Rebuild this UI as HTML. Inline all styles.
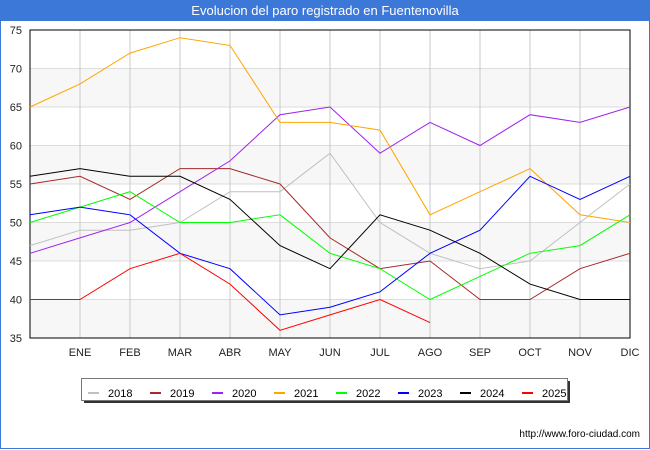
<!DOCTYPE html>
<html><head><meta charset="utf-8"><style>
body{margin:0;width:650px;height:450px;background:#fff;font-family:"Liberation Sans","DejaVu Sans",sans-serif;overflow:hidden;position:relative}
#frame{position:absolute;left:0;top:0;width:648px;height:448px;border:1px solid #3c78d8;border-top:none}
#title{position:absolute;left:0;top:0;width:650px;height:21px;background:#3c78d8;color:#fff;font-size:13px;text-align:center;line-height:22px}
</style></head><body>
<div id="frame"></div>
<div id="title">Evolucion del paro registrado en Fuentenovilla</div>
<svg id="chart" width="650" height="450" style="position:absolute;left:0;top:0"></svg>
<script>
const months=["","ENE","FEB","MAR","ABR","MAY","JUN","JUL","AGO","SEP","OCT","NOV","DIC"];
const yTicks=[35,40,45,50,55,60,65,70,75];
const years=["2018","2019","2020","2021","2022","2023","2024","2025"];
const colors=["#c0c0c0","#a52a2a","#a020f0","#ffa500","#00ff00","#0000ff","#000000","#ff0000"];
const s2018=[47,49,49,50,54,54,59,50,46,44,45,50,55];
const s2019=[55,56,53,57,57,55,48,44,45,40,40,44,46];
const s2020=[46,48,50,54,58,64,65,59,63,60,64,63,65];
const s2021=[65,68,72,74,73,63,63,62,51,54,57,51,50];
const s2022=[50,52,54,50,50,51,46,44,40,43,46,47,51];
const s2023=[51,52,51,46,44,38,39,41,46,49,56,53,56];
const s2024=[56,57,56,56,53,47,44,51,49,46,42,40,40];
const s2025=[40,40,44,46,42,36,38,40,37];
const series=[s2018,s2019,s2020,s2021,s2022,s2023,s2024,s2025];
const NS="http://www.w3.org/2000/svg";
const svg=document.getElementById('chart');
const L=30,R=630,T=30,B=338,ymin=35,ymax=75;
const x=i=>L+i*(R-L)/(months.length-1);
const y=v=>B-(v-ymin)*(B-T)/(ymax-ymin);
function mk(t,a,p){const e=document.createElementNS(NS,t);for(const k in a)e.setAttribute(k,a[k]);(p||svg).appendChild(e);return e;}
// bands
for(let i=0;i<yTicks.length-1;i++){
  if(i%2===0){const r=mk('rect',{x:L,y:y(yTicks[i+1]),width:R-L,height:y(yTicks[i])-y(yTicks[i+1]),fill:'#f7f7f7'});
  
  }
}
yTicks.forEach(v=>{
  const l=mk('line',{x1:L,x2:R,y1:y(v),y2:y(v),stroke:'#dddddd','stroke-width':1});
  
  
  const t=mk('text',{x:L-8,y:y(v)+4,'text-anchor':'end','font-size':11,fill:'#222'});t.textContent=v;
  
  
});
months.forEach((m,i)=>{
  if(i>0){const l=mk('line',{x1:x(i),x2:x(i),y1:T,y2:B,stroke:'#c8c8c8','stroke-width':1});
  
  }
  const t=mk('text',{x:x(i),y:B+18,'text-anchor':'middle','font-size':11,fill:'#222'});t.textContent=m;
  
  
});
const ax=mk('rect',{x:L,y:T,width:R-L,height:B-T,fill:'none',stroke:'#000','stroke-width':1});


series.forEach((s,k)=>{
  const p=mk('polyline',{points:s.map((v,i)=>x(i)+','+y(v)).join(' '),fill:'none',stroke:colors[k],'stroke-width':1});
  
  
});
// legend
const sh=mk('rect',{x:84,y:381,width:486,height:22,fill:'#333'});


const lg=mk('rect',{x:81.5,y:378.5,width:486,height:22,fill:'#fff',stroke:'#777'});


years.forEach((yr,k)=>{
  const bx=88+k*62;
  const l=mk('line',{x1:bx,x2:bx+11,y1:393,y2:393,stroke:colors[k],'stroke-width':2});
  
  
  const t=mk('text',{x:bx+20,y:397,'font-size':11,fill:'#000'});t.textContent=yr;
  
  
});
const u=mk('text',{x:640,y:437,'text-anchor':'end','font-size':10,fill:'#000'});u.textContent='http://www.foro-ciudad.com';


</script>
</body></html>
